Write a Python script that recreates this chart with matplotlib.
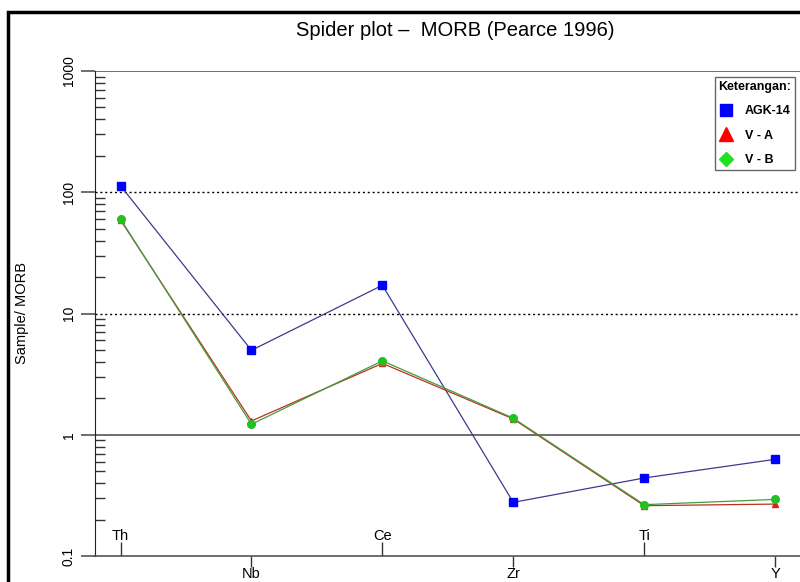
import numpy as np
import matplotlib
matplotlib.use("Agg")
import matplotlib.pyplot as plt
from matplotlib.lines import Line2D
from matplotlib.patches import Rectangle
from matplotlib import transforms

plt.rcParams['font.family'] = ['Liberation Sans', 'DejaVu Sans']

# data (sample / MORB)
elements = ['Th', 'Nb', 'Ce', 'Zr', 'Ti', 'Y']
agk14 = [113, 4.97, 17.1, 0.277, 0.44, 0.627]
v_a = [58.9, 1.30, 3.88, 1.35, 0.26, 0.268]
v_b = [60.0, 1.22, 4.07, 1.37, 0.265, 0.293]
yticks = [0.1, 1, 10, 100, 1000]
ytick_labels = ['0.1', '1', '10', '100', '1000']

pos = np.arange(1, len(elements) + 1)

fig = plt.figure(figsize=(8, 5.82), dpi=100)
W, H = 800, 582
ax = fig.add_axes([95 / W, 1 - 556 / H, 1 - 95 / W + 0.02, (556 - 71) / H])

# outer frame
fig.patches.append(Rectangle((8 / W, -0.1), 1.2, 1 - 12 / H + 0.1, transform=fig.transFigure,
                             fill=False, edgecolor='black', linewidth=2.5))

ax.set_yscale('log')
ax.set_ylim(0.1, 1000)
ax.set_xlim(0.805, 6.19 + 0.02 * W / 131)

# reference lines
ax.axhline(100, color='black', linestyle=(0, (1.5, 2)), linewidth=1)
ax.axhline(10, color='black', linestyle=(0, (1.5, 2)), linewidth=1)
ax.axhline(1, color='#555555', linewidth=1.2)
ax.axhline(1000, color='#555555', linewidth=1.2)

# series
ax.plot(pos, agk14, color='#3b3b8f', linewidth=0.9, marker='s', markersize=5.5,
        markerfacecolor='#0000ff', markeredgecolor='#0000ff', zorder=3)
ax.plot(pos, v_a, color='#c0301e', linewidth=0.9, marker='^', markersize=5,
        markerfacecolor='#e02020', markeredgecolor='#e02020', zorder=3)
ax.plot(pos, v_b, color='#3f9f3f', linewidth=0.9, marker='o', markersize=5.5,
        markerfacecolor='#22c022', markeredgecolor='#22c022', zorder=4)

# spines
for s in ['top', 'right']:
    ax.spines[s].set_visible(False)
ax.spines['left'].set_color('#222222')
ax.spines['bottom'].set_color('#555555')
ax.spines['bottom'].set_linewidth(1.2)

# y ticks
ax.set_yticks(yticks)
ax.set_yticklabels(ytick_labels, rotation=90, va='center', fontsize=10)
ax.tick_params(axis='y', which='major', direction='out', length=10, width=1.2,
               color='#555555', pad=4)
ax.tick_params(axis='y', which='minor', direction='in', length=7, width=1, color='#333333')
fig.text(22 / W, 1 - 313 / H, 'Sample/ MORB', rotation=90, ha='center', va='center', fontsize=10.5)

# x ticks: alternate below (Nb, Zr, Y) and inside (Th, Ce, Ti)
ax.set_xticks(pos[1::2])
ax.set_xticklabels(elements[1::2], fontsize=10.5)
ax.set_xticks(pos[0::2], minor=True)
ax.tick_params(axis='x', which='major', direction='out', length=8, width=1, pad=0, color='#333333')
ax.tick_params(axis='x', which='minor', direction='in', length=10, width=1, color='#333333')
trans = transforms.blended_transform_factory(ax.transData, ax.transAxes)
for x, name in zip(pos[0::2], elements[0::2]):
    ax.text(x, 13 / 485, name, transform=trans, ha='center', va='bottom', fontsize=10.5)

ax.set_title('Spider plot \u2013  MORB (Pearce 1996)', fontsize=14.5, pad=25)

# legend
handles = [
    Line2D([], [], linestyle='none', marker='s', markersize=9, color='#0000ff', label='AGK-14'),
    Line2D([], [], linestyle='none', marker='^', markersize=10, color='#ff0000', label='V - A'),
    Line2D([], [], linestyle='none', marker='D', markersize=7, color='#22e022', label='V - B'),
]
leg = ax.legend(handles=handles, title='Keterangan:', loc='upper right',
                bbox_to_anchor=(795 / W, 1 - 77 / H), bbox_transform=fig.transFigure,
                borderaxespad=0,
                prop={'size': 9, 'weight': 'bold'}, title_fontproperties={'size': 9, 'weight': 'bold'},
                alignment='left', fancybox=False, framealpha=1, edgecolor='#666666',
                handletextpad=0.9, labelspacing=1.0, borderpad=0.3, handlelength=1.2)
leg.get_frame().set_linewidth(1)

fig.savefig('out.png', dpi=100)
